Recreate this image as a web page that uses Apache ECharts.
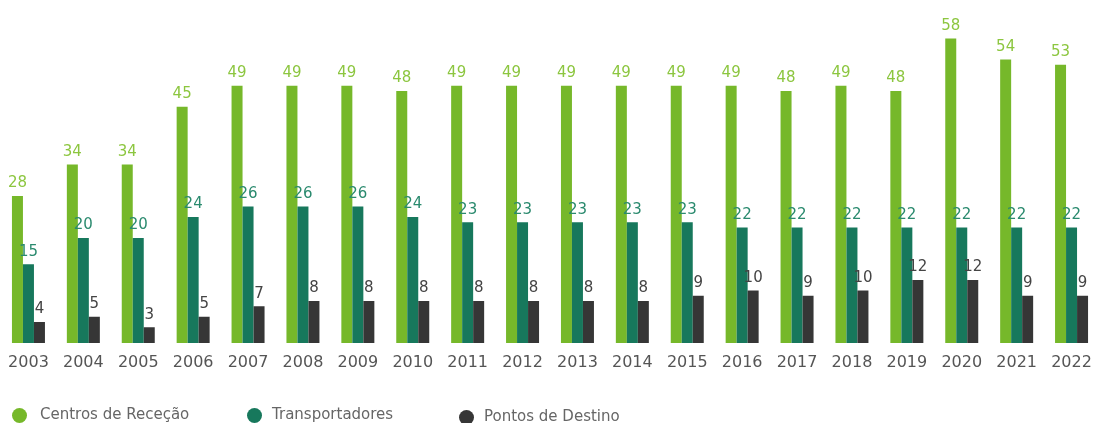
<!DOCTYPE html>
<html>
<head>
<meta charset="utf-8">
<script src="https://cdn.jsdelivr.net/npm/echarts@6/dist/echarts.min.js"></script>
<style>
  html, body { margin: 0; padding: 0; background: #fff; }
  #chart { width: 1099px; height: 423px; }
</style>
</head>
<body>
<div id="chart"></div>
<script>
const years = ['2003', '2004', '2005', '2006', '2007', '2008', '2009', '2010', '2011', '2012',
  '2013', '2014', '2015', '2016', '2017', '2018', '2019', '2020', '2021', '2022'];
const centrosRececao = [28, 34, 34, 45, 49, 49, 49, 48, 49, 49, 49, 49, 49, 49, 48, 49, 48, 58, 54, 53];
const transportadores = [15, 20, 20, 24, 26, 26, 26, 24, 23, 23, 23, 23, 23, 22, 22, 22, 22, 22, 22, 22];
const pontosDestino = [4, 5, 3, 5, 7, 8, 8, 8, 8, 8, 8, 8, 9, 10, 9, 10, 12, 12, 9, 9];
const seriesNames = ['Centros de Receção', 'Transportadores', 'Pontos de Destino'];

const font = '"DejaVu Sans", sans-serif';

const mkSeries = (name, data, color, labelColor) => ({
  name,
  type: 'bar',
  data,
  barWidth: 11,
  barGap: '0%',
  itemStyle: { color },
  label: {
    show: true,
    position: 'top',
    distance: 5,
    color: labelColor,
    fontSize: 15,
    fontFamily: font,
  },
});

// one legend per item so each can sit where the original puts it
const mkLegend = (name, left, top, gap) => ({
  data: [name],
  left,
  top,
  icon: 'circle',
  itemWidth: 15,
  itemHeight: 15,
  textStyle: { color: '#666', fontSize: 15, fontFamily: font, padding: [0, 0, 0, gap] },
});

const chart = echarts.init(document.getElementById('chart'));
chart.setOption({
  backgroundColor: '#fff',
  animation: false,
  grid: { left: 1, right: -6, top: 28, bottom: 80 },
  legend: [
    mkLegend(seriesNames[0], 7, 403, 8),
    mkLegend(seriesNames[1], 242, 403, 5),
    mkLegend(seriesNames[2], 454, 405, 5),
  ],
  xAxis: {
    type: 'category',
    data: years,
    axisLine: { show: false },
    axisTick: { show: false },
    axisLabel: { color: '#555', fontSize: 16, fontFamily: font, margin: 12 },
  },
  yAxis: {
    type: 'value',
    min: 0,
    max: 60,
    show: false,
    splitLine: { show: false },
  },
  series: [
    mkSeries(seriesNames[0], centrosRececao, '#76b82a', '#8cc63f'),
    mkSeries(seriesNames[1], transportadores, '#17785c', '#2a8a6e'),
    mkSeries(seriesNames[2], pontosDestino, '#363636', '#444'),
  ],
});
</script>
</body>
</html>
